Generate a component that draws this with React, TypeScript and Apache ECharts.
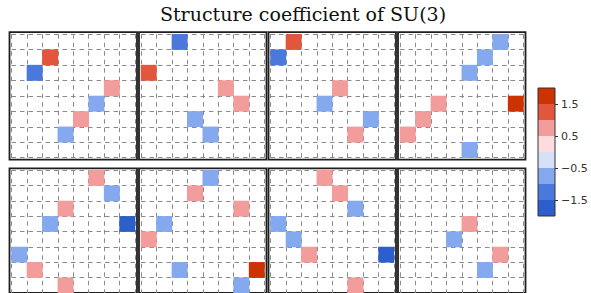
import React, { useEffect, useRef } from 'react';
import * as echarts from 'echarts';

const INDICES = ['1', '2', '3', '4', '5', '6', '7', '8'];

// entries: [row, col, value]
const PANEL_1 = [[1, 2, 1], [2, 1, -1], [3, 6, 0.5], [4, 5, -0.5], [5, 4, 0.5], [6, 3, -0.5]];
const PANEL_2 = [[0, 2, -1], [2, 0, 1], [3, 5, 0.5], [4, 6, 0.5], [5, 3, -0.5], [6, 4, -0.5]];
const PANEL_3 = [[0, 1, 1], [1, 0, -1], [3, 4, 0.5], [4, 3, -0.5], [5, 6, -0.5], [6, 5, 0.5]];
const PANEL_4 = [[0, 6, -0.5], [1, 5, -0.5], [2, 4, -0.5], [4, 2, 0.5], [4, 7, 1.73], [5, 1, 0.5], [6, 0, 0.5], [7, 4, -0.87]];
const PANEL_5 = [[0, 5, 0.5], [1, 6, -0.5], [2, 3, 0.5], [3, 2, -0.5], [3, 7, -1.73], [5, 0, -0.5], [6, 1, 0.5], [7, 3, 0.87]];
const PANEL_6 = [[0, 4, -0.5], [1, 3, 0.5], [2, 6, 0.5], [3, 1, -0.5], [4, 0, 0.5], [6, 2, -0.5], [6, 7, 1.73], [7, 6, -0.87]];
const PANEL_7 = [[0, 3, 0.5], [1, 4, 0.5], [2, 5, -0.5], [3, 0, -0.5], [4, 1, -0.5], [5, 2, 0.5], [5, 7, -1.73], [7, 5, 0.87]];
const PANEL_8 = [[3, 4, 0.87], [4, 3, -0.87], [5, 6, 0.87], [6, 5, -0.87]];

const PANELS = [PANEL_1, PANEL_2, PANEL_3, PANEL_4, PANEL_5, PANEL_6, PANEL_7, PANEL_8];

const CB_BINS = [-2, -1.5, -1, -0.5, 0, 0.5, 1, 1.5, 2];
const CB_COLORS = ['#2c5fcc', '#4a78db', '#84a9ef', '#d6e1f8', '#fcdcdc', '#f29c9b', '#e0573e', '#cc3300'];
const CB_TICKS = [-1.5, -0.5, 0.5, 1.5];

const TITLE = 'Structure coefficient of SU(3)';

const LEFTS = [11.5, 141, 270.5, 400];
const TOPS = [34.2, 170.3];
const CELL_W = 123.5;
const CELL_H = 123.5;

export default function App() {
  const ref = useRef<HTMLDivElement>(null);

  useEffect(() => {
    if (!ref.current) return;
    const chart = echarts.init(ref.current, undefined, { renderer: 'svg' });

    const grids: any[] = [];
    const xAxes: any[] = [];
    const yAxes: any[] = [];
    const series: any[] = [];

    PANELS.forEach((panel, i) => {
      const left = LEFTS[i % 4];
      const top = TOPS[Math.floor(i / 4)];
      grids.push({ left, top, width: CELL_W, height: CELL_H, show: false, containLabel: false });
      const splitLine = { show: true, interval: 0, lineStyle: { color: '#8a8a8a', width: 1, type: [4.5, 4] } };
      xAxes.push({
        type: 'category', gridIndex: i, data: INDICES,
        axisLine: { show: false }, axisTick: { show: false }, axisLabel: { show: false }, splitLine,
      });
      yAxes.push({
        type: 'category', gridIndex: i, data: INDICES, inverse: true,
        axisLine: { show: false }, axisTick: { show: false }, axisLabel: { show: false }, splitLine,
      });
      series.push({
        type: 'heatmap', xAxisIndex: i, yAxisIndex: i,
        data: panel.map(([r, c, v]) => [c, r, v]),
        itemStyle: { borderWidth: 0 },
        emphasis: { disabled: true },
      });
    });

    // frames around panels
    PANELS.forEach((_, i) => {
      const left = LEFTS[i % 4];
      const top = TOPS[Math.floor(i / 4)];
      const gi = grids.length;
      grids.push({
        left: left - 2, top: top - 2, width: CELL_W + 4, height: CELL_H + 4,
        show: true, borderColor: '#1e1e1e', borderWidth: 1.8, backgroundColor: 'transparent',
      });
      xAxes.push({ type: 'value', gridIndex: gi, show: false });
      yAxes.push({ type: 'value', gridIndex: gi, show: false });
    });

    // colorbar
    const cbGrid = grids.length;
    grids.push({ left: 538, top: 88, width: 17, height: 128, show: true, borderColor: '#333', borderWidth: 1, z: 10 });
    xAxes.push({ type: 'category', gridIndex: cbGrid, data: ['cb'], show: false, boundaryGap: true });
    yAxes.push({
      type: 'value', gridIndex: cbGrid, min: CB_BINS[0], max: CB_BINS[CB_BINS.length - 1], position: 'right',
      axisLine: { show: false },
      axisTick: { show: true, length: 3, customValues: CB_TICKS, lineStyle: { color: '#333' } },
      axisLabel: {
        show: true, customValues: CB_TICKS, margin: 6, color: '#333', fontSize: 11, fontFamily: 'DejaVu Sans',
        formatter: (v: number) => (v < 0 ? '\u2212' + Math.abs(v) : String(v)),
      },
      splitLine: { show: false },
    });
    // negative bins stacked downward from 0, positive bins upward
    const zeroIdx = CB_BINS.indexOf(0);
    const order: number[] = [];
    for (let k = zeroIdx; k < CB_BINS.length - 1; k++) order.push(k);
    for (let k = zeroIdx - 1; k >= 0; k--) order.push(k);
    order.forEach((k) => {
      const lo = CB_BINS[k];
      const hi = CB_BINS[k + 1];
      const val = hi <= 0 ? lo - hi : hi - lo;
      series.push({
        type: 'bar', xAxisIndex: cbGrid, yAxisIndex: cbGrid, stack: 'cb',
        data: [val], barWidth: '100%', barCategoryGap: 0,
        itemStyle: { color: CB_COLORS[k] }, emphasis: { disabled: true }, silent: true,
      });
    });

    const pieces = CB_COLORS.map((color, k) => {
      const lo = CB_BINS[k];
      const hi = CB_BINS[k + 1];
      if (hi <= 0) return k === 0 ? { gte: lo, lte: hi, color } : { gt: lo, lte: hi, color };
      return k === CB_COLORS.length - 1 ? { gte: lo, lte: hi, color } : { gte: lo, lt: hi, color };
    });

    chart.setOption({
      animation: false,
      title: {
        text: TITLE, left: 303, top: 4, textAlign: 'center', padding: 0,
        textStyle: { fontFamily: 'DejaVu Serif', fontSize: 19, fontWeight: 'normal', color: '#111' },
      },
      grid: grids,
      xAxis: xAxes,
      yAxis: yAxes,
      visualMap: {
        type: 'piecewise', show: false, pieces,
        seriesIndex: PANELS.map((_, i) => i),
      },
      series,
    });

    return () => chart.dispose();
  }, []);

  return <div ref={ref} style={{ position: 'absolute', left: 0, top: 0, width: 591, height: 293 }} />;
}
